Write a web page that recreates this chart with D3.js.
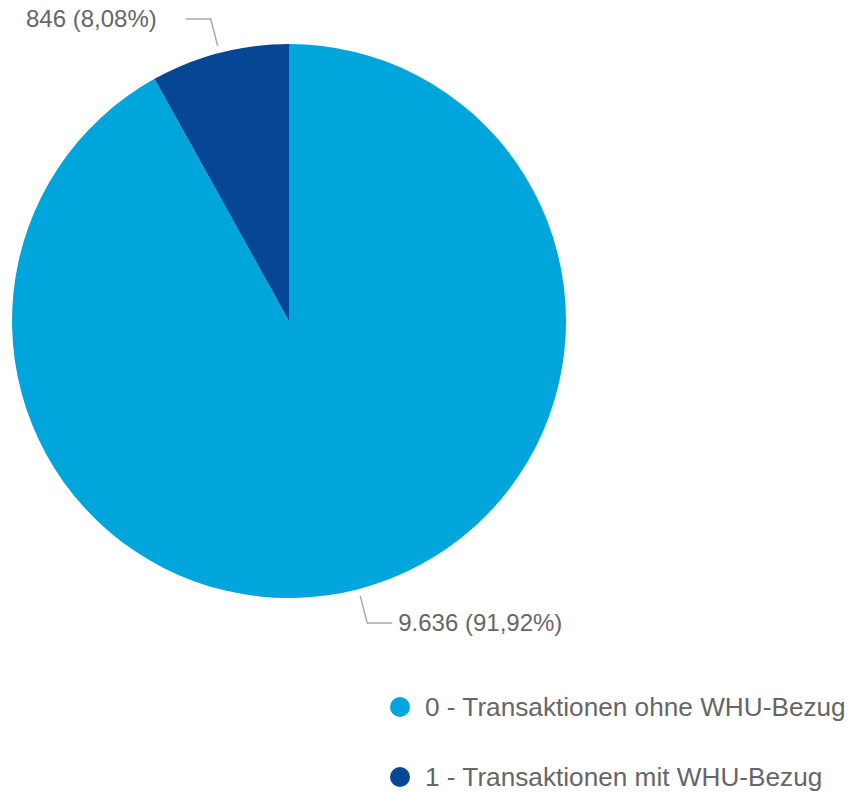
<!DOCTYPE html>
<html>
<head>
<meta charset="utf-8">
<script src="https://cdn.jsdelivr.net/npm/d3@7"></script>
<style>
  body { margin: 0; background: #fff; }
  text { font-family: "Liberation Sans", Arial, sans-serif; }
</style>
</head>
<body>
<div id="chart"></div>
<script>
// data
const categories = ["0 - Transaktionen ohne WHU-Bezug", "1 - Transaktionen mit WHU-Bezug"];
const values = [9636, 846];
const sliceLabels = ["9.636 (91,92%)", "846 (8,08%)"];
const colors = ["#00a5db", "#064795"];

const W = 856, H = 793;
const cx = 289, cy = 321, radius = 277;

const svg = d3.select("#chart")
  .append("svg")
    .attr("width", W)
    .attr("height", H);

const g = svg.append("g")
  .attr("transform", `translate(${cx}, ${cy})`);

const pie = d3.pie().sort(null).value(d => d);
const arcs = pie(values);

const arc = d3.arc().innerRadius(0).outerRadius(radius);

g.selectAll("path.slice")
  .data(arcs)
  .enter()
  .append("path")
    .attr("class", "slice")
    .attr("d", arc)
    .attr("fill", (d, i) => colors[i]);

// leader lines + labels
const inner = d3.arc().innerRadius(284).outerRadius(284);
const outer = d3.arc().innerRadius(312).outerRadius(312);

arcs.forEach(function(d, i) {
  const mid = (d.startAngle + d.endAngle) / 2;
  const p1 = inner.centroid(d);
  const p2 = outer.centroid(d);
  const right = Math.sin(mid) > 0;
  const p3 = [p2[0] + (right ? 25 : -25), p2[1]];
  g.append("polyline")
    .attr("points", [p1, p2, p3].map(p => p.join(",")).join(" "))
    .attr("fill", "none")
    .attr("stroke", "#aaaaaa")
    .attr("stroke-width", 1.5);
  g.append("text")
    .attr("x", right ? p3[0] + 6 : p3[0] - 29)
    .attr("y", p3[1])
    .attr("dy", "0.35em")
    .attr("text-anchor", right ? "start" : "end")
    .attr("font-size", "24px")
    .attr("fill", "#666666")
    .text(sliceLabels[i]);
});

// legend
const legend = svg.append("g")
  .attr("transform", "translate(400, 707)");

const rows = legend.selectAll("g")
  .data(categories)
  .enter()
  .append("g")
    .attr("transform", (d, i) => `translate(0, ${i * 70})`);

rows.append("circle")
  .attr("r", 10)
  .attr("fill", (d, i) => colors[i]);

rows.append("text")
  .attr("x", 25)
  .attr("dy", "0.35em")
  .attr("font-size", "26.2px")
  .attr("fill", "#666666")
  .text(d => d);
</script>
</body>
</html>
